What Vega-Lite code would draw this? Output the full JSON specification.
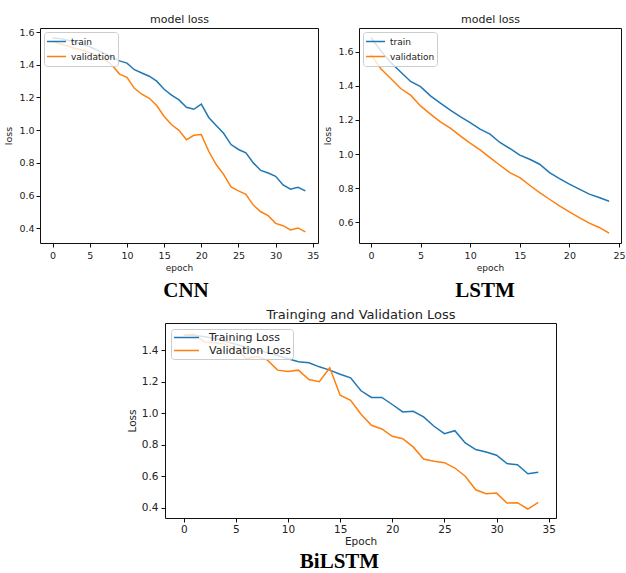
{
  "$schema": "https://vega.github.io/schema/vega-lite/v6.json",
  "padding": {"left": 3, "top": 12, "right": 0, "bottom": 0},
  "config": {
    "font": "DejaVu Sans",
    "view": {"stroke": "#111", "strokeWidth": 1},
    "axis": {"domain": false, "grid": false, "tickColor": "#111", "tickSize": 4, "labelColor": "#222", "titleColor": "#222", "titleFontWeight": "normal", "labelFlush": false, "labelOverlap": false},
    "legend": {"title": null, "orient": "top-left", "symbolType": "stroke", "symbolStrokeWidth": 1.5, "fillColor": "rgba(255,255,255,0.8)", "strokeColor": "#cccccc", "cornerRadius": 3, "labelColor": "#222", "rowPadding": 0},
    "title": {"color": "#000"}
  },
  "datasets": {
    "cnn": [
      {"epoch":0,"series":"train","loss":1.565},{"epoch":1,"series":"train","loss":1.56},{"epoch":2,"series":"train","loss":1.55},{"epoch":3,"series":"train","loss":1.54},{"epoch":4,"series":"train","loss":1.525},{"epoch":5,"series":"train","loss":1.51},{"epoch":6,"series":"train","loss":1.49},{"epoch":7,"series":"train","loss":1.468},{"epoch":8,"series":"train","loss":1.446},{"epoch":9,"series":"train","loss":1.424},{"epoch":10,"series":"train","loss":1.41},{"epoch":11,"series":"train","loss":1.37},{"epoch":12,"series":"train","loss":1.35},{"epoch":13,"series":"train","loss":1.33},{"epoch":14,"series":"train","loss":1.3},{"epoch":15,"series":"train","loss":1.25},{"epoch":16,"series":"train","loss":1.215},{"epoch":17,"series":"train","loss":1.185},{"epoch":18,"series":"train","loss":1.14},{"epoch":19,"series":"train","loss":1.128},{"epoch":20,"series":"train","loss":1.159},{"epoch":21,"series":"train","loss":1.078},{"epoch":22,"series":"train","loss":1.029},{"epoch":23,"series":"train","loss":0.981},{"epoch":24,"series":"train","loss":0.912},{"epoch":25,"series":"train","loss":0.882},{"epoch":26,"series":"train","loss":0.861},{"epoch":27,"series":"train","loss":0.8},{"epoch":28,"series":"train","loss":0.754},{"epoch":29,"series":"train","loss":0.738},{"epoch":30,"series":"train","loss":0.718},{"epoch":31,"series":"train","loss":0.665},{"epoch":32,"series":"train","loss":0.639},{"epoch":33,"series":"train","loss":0.651},{"epoch":34,"series":"train","loss":0.629},
      {"epoch":0,"series":"validation","loss":1.543},{"epoch":1,"series":"validation","loss":1.529},{"epoch":2,"series":"validation","loss":1.515},{"epoch":3,"series":"validation","loss":1.5},{"epoch":4,"series":"validation","loss":1.49},{"epoch":5,"series":"validation","loss":1.474},{"epoch":6,"series":"validation","loss":1.458},{"epoch":7,"series":"validation","loss":1.435},{"epoch":8,"series":"validation","loss":1.397},{"epoch":9,"series":"validation","loss":1.343},{"epoch":10,"series":"validation","loss":1.323},{"epoch":11,"series":"validation","loss":1.256},{"epoch":12,"series":"validation","loss":1.22},{"epoch":13,"series":"validation","loss":1.195},{"epoch":14,"series":"validation","loss":1.151},{"epoch":15,"series":"validation","loss":1.084},{"epoch":16,"series":"validation","loss":1.033},{"epoch":17,"series":"validation","loss":0.999},{"epoch":18,"series":"validation","loss":0.942},{"epoch":19,"series":"validation","loss":0.969},{"epoch":20,"series":"validation","loss":0.973},{"epoch":21,"series":"validation","loss":0.871},{"epoch":22,"series":"validation","loss":0.79},{"epoch":23,"series":"validation","loss":0.73},{"epoch":24,"series":"validation","loss":0.653},{"epoch":25,"series":"validation","loss":0.629},{"epoch":26,"series":"validation","loss":0.608},{"epoch":27,"series":"validation","loss":0.542},{"epoch":28,"series":"validation","loss":0.501},{"epoch":29,"series":"validation","loss":0.477},{"epoch":30,"series":"validation","loss":0.43},{"epoch":31,"series":"validation","loss":0.416},{"epoch":32,"series":"validation","loss":0.39},{"epoch":33,"series":"validation","loss":0.402},{"epoch":34,"series":"validation","loss":0.378}
    ],
    "lstm": [
      {"epoch":0,"series":"train","loss":1.682},{"epoch":1,"series":"train","loss":1.604},{"epoch":2,"series":"train","loss":1.536},{"epoch":3,"series":"train","loss":1.481},{"epoch":4,"series":"train","loss":1.425},{"epoch":5,"series":"train","loss":1.395},{"epoch":6,"series":"train","loss":1.341},{"epoch":7,"series":"train","loss":1.298},{"epoch":8,"series":"train","loss":1.257},{"epoch":9,"series":"train","loss":1.22},{"epoch":10,"series":"train","loss":1.185},{"epoch":11,"series":"train","loss":1.146},{"epoch":12,"series":"train","loss":1.117},{"epoch":13,"series":"train","loss":1.068},{"epoch":14,"series":"train","loss":1.033},{"epoch":15,"series":"train","loss":0.994},{"epoch":16,"series":"train","loss":0.97},{"epoch":17,"series":"train","loss":0.941},{"epoch":18,"series":"train","loss":0.892},{"epoch":19,"series":"train","loss":0.857},{"epoch":20,"series":"train","loss":0.824},{"epoch":21,"series":"train","loss":0.795},{"epoch":22,"series":"train","loss":0.766},{"epoch":23,"series":"train","loss":0.746},{"epoch":24,"series":"train","loss":0.724},
      {"epoch":0,"series":"validation","loss":1.584},{"epoch":1,"series":"validation","loss":1.5},{"epoch":2,"series":"validation","loss":1.442},{"epoch":3,"series":"validation","loss":1.384},{"epoch":4,"series":"validation","loss":1.345},{"epoch":5,"series":"validation","loss":1.282},{"epoch":6,"series":"validation","loss":1.234},{"epoch":7,"series":"validation","loss":1.189},{"epoch":8,"series":"validation","loss":1.152},{"epoch":9,"series":"validation","loss":1.107},{"epoch":10,"series":"validation","loss":1.064},{"epoch":11,"series":"validation","loss":1.025},{"epoch":12,"series":"validation","loss":0.98},{"epoch":13,"series":"validation","loss":0.935},{"epoch":14,"series":"validation","loss":0.892},{"epoch":15,"series":"validation","loss":0.863},{"epoch":16,"series":"validation","loss":0.818},{"epoch":17,"series":"validation","loss":0.775},{"epoch":18,"series":"validation","loss":0.736},{"epoch":19,"series":"validation","loss":0.697},{"epoch":20,"series":"validation","loss":0.662},{"epoch":21,"series":"validation","loss":0.629},{"epoch":22,"series":"validation","loss":0.596},{"epoch":23,"series":"validation","loss":0.571},{"epoch":24,"series":"validation","loss":0.538}
    ],
    "bilstm": [
      {"epoch":0,"series":"Training Loss","loss":1.495},{"epoch":1,"series":"Training Loss","loss":1.495},{"epoch":2,"series":"Training Loss","loss":1.485},{"epoch":3,"series":"Training Loss","loss":1.474},{"epoch":4,"series":"Training Loss","loss":1.455},{"epoch":5,"series":"Training Loss","loss":1.437},{"epoch":6,"series":"Training Loss","loss":1.418},{"epoch":7,"series":"Training Loss","loss":1.4},{"epoch":8,"series":"Training Loss","loss":1.384},{"epoch":9,"series":"Training Loss","loss":1.366},{"epoch":10,"series":"Training Loss","loss":1.345},{"epoch":11,"series":"Training Loss","loss":1.326},{"epoch":12,"series":"Training Loss","loss":1.32},{"epoch":13,"series":"Training Loss","loss":1.294},{"epoch":14,"series":"Training Loss","loss":1.273},{"epoch":15,"series":"Training Loss","loss":1.247},{"epoch":16,"series":"Training Loss","loss":1.224},{"epoch":17,"series":"Training Loss","loss":1.142},{"epoch":18,"series":"Training Loss","loss":1.1},{"epoch":19,"series":"Training Loss","loss":1.1},{"epoch":20,"series":"Training Loss","loss":1.055},{"epoch":21,"series":"Training Loss","loss":1.008},{"epoch":22,"series":"Training Loss","loss":1.012},{"epoch":23,"series":"Training Loss","loss":0.976},{"epoch":24,"series":"Training Loss","loss":0.917},{"epoch":25,"series":"Training Loss","loss":0.87},{"epoch":26,"series":"Training Loss","loss":0.889},{"epoch":27,"series":"Training Loss","loss":0.811},{"epoch":28,"series":"Training Loss","loss":0.769},{"epoch":29,"series":"Training Loss","loss":0.754},{"epoch":30,"series":"Training Loss","loss":0.733},{"epoch":31,"series":"Training Loss","loss":0.68},{"epoch":32,"series":"Training Loss","loss":0.673},{"epoch":33,"series":"Training Loss","loss":0.616},{"epoch":34,"series":"Training Loss","loss":0.625},
      {"epoch":0,"series":"Validation Loss","loss":1.495},{"epoch":1,"series":"Validation Loss","loss":1.5},{"epoch":2,"series":"Validation Loss","loss":1.452},{"epoch":3,"series":"Validation Loss","loss":1.447},{"epoch":4,"series":"Validation Loss","loss":1.438},{"epoch":5,"series":"Validation Loss","loss":1.41},{"epoch":6,"series":"Validation Loss","loss":1.345},{"epoch":7,"series":"Validation Loss","loss":1.36},{"epoch":8,"series":"Validation Loss","loss":1.338},{"epoch":9,"series":"Validation Loss","loss":1.273},{"epoch":10,"series":"Validation Loss","loss":1.264},{"epoch":11,"series":"Validation Loss","loss":1.273},{"epoch":12,"series":"Validation Loss","loss":1.214},{"epoch":13,"series":"Validation Loss","loss":1.2},{"epoch":14,"series":"Validation Loss","loss":1.288},{"epoch":15,"series":"Validation Loss","loss":1.114},{"epoch":16,"series":"Validation Loss","loss":1.082},{"epoch":17,"series":"Validation Loss","loss":0.993},{"epoch":18,"series":"Validation Loss","loss":0.923},{"epoch":19,"series":"Validation Loss","loss":0.9},{"epoch":20,"series":"Validation Loss","loss":0.853},{"epoch":21,"series":"Validation Loss","loss":0.838},{"epoch":22,"series":"Validation Loss","loss":0.786},{"epoch":23,"series":"Validation Loss","loss":0.709},{"epoch":24,"series":"Validation Loss","loss":0.695},{"epoch":25,"series":"Validation Loss","loss":0.686},{"epoch":26,"series":"Validation Loss","loss":0.652},{"epoch":27,"series":"Validation Loss","loss":0.6},{"epoch":28,"series":"Validation Loss","loss":0.514},{"epoch":29,"series":"Validation Loss","loss":0.489},{"epoch":30,"series":"Validation Loss","loss":0.493},{"epoch":31,"series":"Validation Loss","loss":0.43},{"epoch":32,"series":"Validation Loss","loss":0.432},{"epoch":33,"series":"Validation Loss","loss":0.392},{"epoch":34,"series":"Validation Loss","loss":0.434}
    ]
  },
  "spacing": 6,
  "bounds": "full",
  "resolve": {"scale": {"color": "independent"}, "legend": {"color": "independent"}},
  "vconcat": [
    {
      "resolve": {"scale": {"color": "independent"}, "legend": {"color": "independent"}},
      "hconcat": [
        {
          "width": 278, "height": 215,
          "data": {"name": "cnn"},
          "title": {"text": "CNN", "orient": "bottom", "font": "Liberation Serif", "fontSize": 21, "fontWeight": "bold", "dx": 7, "offset": 7},
          "layer": [
            {
              "mark": {"type": "line", "strokeWidth": 1.5},
              "encoding": {
                "x": {"field": "epoch", "type": "quantitative", "scale": {"domain": [-1.7, 35.7], "nice": false, "zero": false},
                  "axis": {"values": [0,5,10,15,20,25,30,35], "format": "d", "title": "epoch", "labelFontSize": 9.5, "titleFontSize": 9, "labelPadding": 3, "titlePadding": 4}},
                "y": {"field": "loss", "type": "quantitative", "scale": {"domain": [0.31, 1.625], "nice": false, "zero": false},
                  "axis": {"values": [0.4,0.6,0.8,1.0,1.2,1.4,1.6], "format": ".1f", "title": "loss", "labelFontSize": 9.5, "titleFontSize": 9.5, "labelPadding": 2, "titlePadding": 5}},
                "color": {"field": "series", "type": "nominal", "scale": {"domain": ["train", "validation"], "range": ["#1f77b4", "#ff7f0e"]},
                  "legend": {"offset": 4, "symbolSize": 361, "labelFontSize": 9, "padding": 2, "clipHeight": 15, "labelOffset": 4}}
              }
            },
            {
              "mark": {"type": "rule", "opacity": 0},
              "encoding": {
                "x": {"field": "epoch", "type": "quantitative", "scale": {"domain": [-1.7, 35.7], "nice": false, "zero": false},
                  "axis": {"orient": "top", "title": "model loss", "labels": false, "ticks": false, "domain": false, "titleFontSize": 11, "titlePadding": 4}}
              }
            }
          ],
          "resolve": {"axis": {"x": "independent"}}
        },
        {
          "width": 262, "height": 215,
          "data": {"name": "lstm"},
          "title": {"text": "LSTM", "orient": "bottom", "font": "Liberation Serif", "fontSize": 21, "fontWeight": "bold", "dx": -5, "offset": 7},
          "layer": [
            {
              "mark": {"type": "line", "strokeWidth": 1.5},
              "encoding": {
                "x": {"field": "epoch", "type": "quantitative", "scale": {"domain": [-1.2, 25.2], "nice": false, "zero": false},
                  "axis": {"values": [0,5,10,15,20,25], "format": "d", "title": "epoch", "labelFontSize": 9.5, "titleFontSize": 9, "labelPadding": 3, "titlePadding": 4}},
                "y": {"field": "loss", "type": "quantitative", "scale": {"domain": [0.48, 1.738], "nice": false, "zero": false},
                  "axis": {"values": [0.6,0.8,1.0,1.2,1.4,1.6], "format": ".1f", "title": "loss", "labelFontSize": 9.5, "titleFontSize": 9.5, "labelPadding": 2, "titlePadding": 5}},
                "color": {"field": "series", "type": "nominal", "scale": {"domain": ["train", "validation"], "range": ["#1f77b4", "#ff7f0e"]},
                  "legend": {"offset": 4, "symbolSize": 361, "labelFontSize": 9, "padding": 2, "clipHeight": 15, "labelOffset": 4}}
              }
            },
            {
              "mark": {"type": "rule", "opacity": 0},
              "encoding": {
                "x": {"field": "epoch", "type": "quantitative", "scale": {"domain": [-1.2, 25.2], "nice": false, "zero": false},
                  "axis": {"orient": "top", "title": "model loss", "labels": false, "ticks": false, "domain": false, "titleFontSize": 11, "titlePadding": 4}}
              }
            }
          ],
          "resolve": {"axis": {"x": "independent"}}
        }
      ],
      "spacing": 41,
      "bounds": "flush"
    },
    {
      "resolve": {"scale": {"color": "independent"}, "legend": {"color": "independent"}},
      "hconcat": [
        {
          "width": 115, "height": 195,
          "data": {"values": [{"a": 1}]},
          "mark": {"type": "point", "opacity": 0},
          "encoding": {},
          "view": {"stroke": null}
        },
        {
          "width": 391, "height": 195,
          "data": {"name": "bilstm"},
          "title": {"text": "BiLSTM", "orient": "bottom", "font": "Liberation Serif", "fontSize": 21, "fontWeight": "bold", "dx": -21, "offset": 4},
          "layer": [
            {
              "mark": {"type": "line", "strokeWidth": 1.5},
              "encoding": {
                "x": {"field": "epoch", "type": "quantitative", "scale": {"domain": [-1.8, 35.7], "nice": false, "zero": false},
                  "axis": {"values": [0,5,10,15,20,25,30,35], "format": "d", "title": "Epoch", "labelFontSize": 10.5, "titleFontSize": 10.5, "labelPadding": 2, "titlePadding": 2}},
                "y": {"field": "loss", "type": "quantitative", "scale": {"domain": [0.335, 1.572], "nice": false, "zero": false},
                  "axis": {"values": [0.4,0.6,0.8,1.0,1.2,1.4], "format": ".1f", "title": "Loss", "labelFontSize": 10.5, "titleFontSize": 10.5, "labelPadding": 3, "titlePadding": 4}},
                "color": {"field": "series", "type": "nominal", "scale": {"domain": ["Training Loss", "Validation Loss"], "range": ["#1f77b4", "#ff7f0e"]},
                  "legend": {"offset": 6, "symbolSize": 625, "labelFontSize": 11, "padding": 2, "clipHeight": 13, "labelOffset": 9}}
              }
            },
            {
              "mark": {"type": "rule", "opacity": 0},
              "encoding": {
                "x": {"field": "epoch", "type": "quantitative", "scale": {"domain": [-1.8, 35.7], "nice": false, "zero": false},
                  "axis": {"orient": "top", "title": "Trainging and Validation Loss", "labels": false, "ticks": false, "domain": false, "titleFontSize": 13, "titlePadding": 2}}
              }
            }
          ],
          "resolve": {"axis": {"x": "independent"}}
        }
      ],
      "spacing": 10,
      "bounds": "flush"
    }
  ]
}
